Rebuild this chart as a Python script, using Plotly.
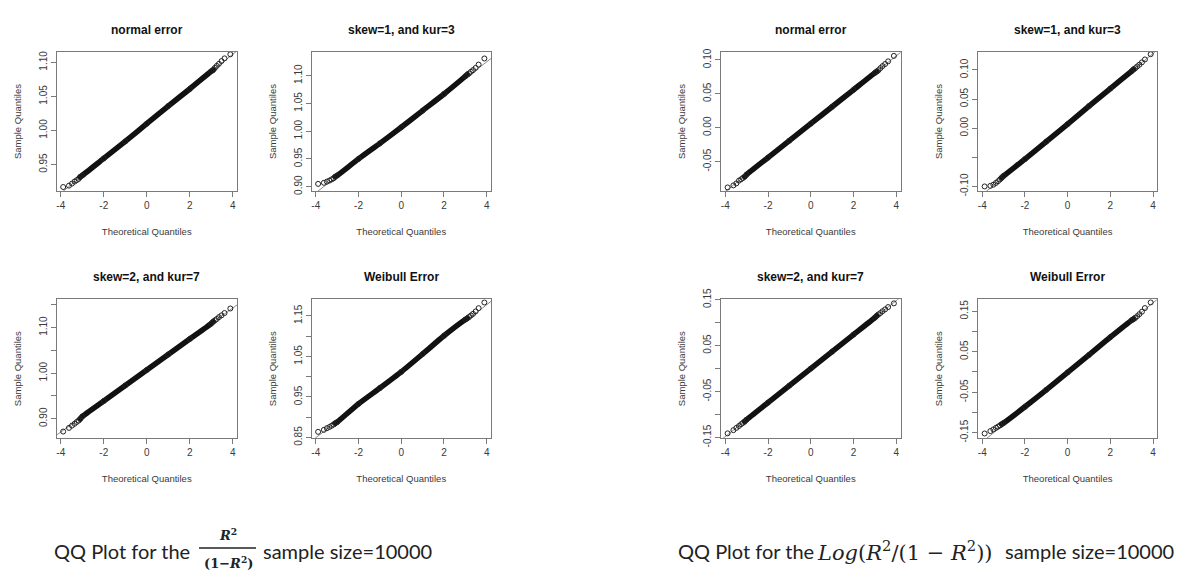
import plotly.graph_objects as go

W, H = 1184, 582

# Theoretical normal quantiles where sample quantiles are listed:
# sparse tail points, then the dense central body, then the upper tail.
THEO = [-3.89, -3.62, -3.48, -3.36, -3.26, -3.17, -3.09,
        -3.0, -2.0, -1.0, 0.0, 1.0, 2.0, 3.0,
        3.09, 3.17, 3.26, 3.36, 3.48, 3.62, 3.89]

PANEL_TITLES = ["normal error", "skew=1, and kur=3", "skew=2, and kur=7", "Weibull Error",
                "normal error", "skew=1, and kur=3", "skew=2, and kur=7", "Weibull Error"]

# Sample quantiles of R^2/(1-R^2)
ratio_normal = [0.917, 0.919, 0.922, 0.925, 0.927, 0.929, 0.932,
                0.934, 0.959, 0.984, 1.010, 1.036, 1.061, 1.087,
                1.089, 1.092, 1.095, 1.098, 1.102, 1.106, 1.112]
ratio_skew1 = [0.905, 0.907, 0.909, 0.911, 0.913, 0.915, 0.918,
               0.920, 0.950, 0.978, 1.007, 1.037, 1.067, 1.099,
               1.102, 1.104, 1.107, 1.110, 1.114, 1.120, 1.131]
ratio_skew2 = [0.872, 0.880, 0.885, 0.889, 0.893, 0.896, 0.900,
               0.905, 0.939, 0.973, 1.007, 1.041, 1.075, 1.109,
               1.113, 1.116, 1.119, 1.123, 1.127, 1.132, 1.142]
ratio_weibull = [0.864, 0.869, 0.873, 0.876, 0.879, 0.882, 0.885,
                 0.888, 0.933, 0.972, 1.012, 1.056, 1.101, 1.141,
                 1.144, 1.147, 1.151, 1.155, 1.161, 1.169, 1.183]

# Sample quantiles of Log(R^2/(1-R^2))
log_normal = [-0.088, -0.085, -0.082, -0.078, -0.076, -0.074, -0.072,
              -0.069, -0.044, -0.019, 0.006, 0.031, 0.056, 0.081,
              0.083, 0.085, 0.088, 0.091, 0.094, 0.098, 0.106]
log_skew1 = [-0.100, -0.099, -0.097, -0.094, -0.091, -0.088, -0.085,
             -0.082, -0.053, -0.023, 0.007, 0.038, 0.068, 0.098,
             0.101, 0.103, 0.106, 0.109, 0.113, 0.118, 0.127]
log_skew2 = [-0.141, -0.134, -0.129, -0.125, -0.121, -0.118, -0.115,
             -0.111, -0.074, -0.037, 0.000, 0.037, 0.074, 0.111,
             0.115, 0.118, 0.121, 0.125, 0.129, 0.134, 0.142]
log_weibull = [-0.152, -0.146, -0.142, -0.138, -0.135, -0.132, -0.129,
               -0.126, -0.086, -0.044, -0.001, 0.042, 0.086, 0.128,
               0.131, 0.134, 0.138, 0.143, 0.149, 0.158, 0.172]

SAMPLES = [ratio_normal, ratio_skew1, ratio_skew2, ratio_weibull,
           log_normal, log_skew1, log_skew2, log_weibull]

# qqline (through the quartiles) for every panel
ref_intercepts = [1.010, 1.007, 1.007, 1.0135, 0.006, 0.007, 0.000, -0.001]
ref_slopes = [0.0255, 0.0295, 0.034, 0.041, 0.025, 0.0303, 0.037, 0.043]

X_TICKS = [-4, -2, 0, 2, 4]
X_TICK_TEXT = ["-4", "-2", "0", "2", "4"]

# labelled y ticks, and unlabelled ones that only get a tick mark
Y_TICKS = [
    [0.95, 1.00, 1.05, 1.10],
    [0.90, 0.95, 1.00, 1.05, 1.10],
    [0.90, 1.00, 1.10],
    [0.85, 0.95, 1.05, 1.15],
    [-0.05, 0.00, 0.05, 0.10],
    [-0.10, 0.00, 0.05, 0.10],
    [-0.15, -0.05, 0.05, 0.15],
    [-0.15, -0.05, 0.05, 0.15],
]
Y_TICK_TEXT = [
    ["0.95", "1.00", "1.05", "1.10"],
    ["0.90", "0.95", "1.00", "1.05", "1.10"],
    ["0.90", "1.00", "1.10"],
    ["0.85", "0.95", "1.05", "1.15"],
    ["-0.05", "0.00", "0.05", "0.10"],
    ["-0.10", "0.00", "0.05", "0.10"],
    ["-0.15", "-0.05", "0.05", "0.15"],
    ["-0.15", "-0.05", "0.05", "0.15"],
]
Y_MINOR_TICKS = [
    [], [],
    [0.95, 1.05, 1.15],
    [0.90, 1.00, 1.10],
    [],
    [-0.05],
    [-0.10, 0.00, 0.10],
    [-0.10, 0.00, 0.10],
]
Y_RANGES = [
    [0.911, 1.1153], [0.892, 1.1426], [0.8576, 1.1623], [0.8486, 1.191],
    [-0.0934, 0.1117], [-0.108, 0.1307], [-0.1513, 0.151], [-0.1634, 0.1798],
]
X_RANGE = [-4.2, 4.2]

# panel boxes in pixels: (left, right, top, bottom)
COLS = [(56.5, 237.0), (311.5, 491.0), (721.0, 900.5), (978.0, 1157.3)]
ROWS = [(42.5, 186.5), (298.5, 442.3)]
BOXES = []
for group in range(2):
    for r in range(2):
        for c in range(2):
            l, rr = COLS[group * 2 + c]
            t, b = ROWS[r]
            BOXES.append((l, rr, t, b))

AXIS_FONT = "Liberation Sans, Arial, sans-serif"
BOX_COLOR = "#7a7a7a"
TEXT_COLOR = "#3a3a3a"

fig = go.Figure()
annotations = []
shapes = []

for i in range(8):
    n = i + 1
    xa = "x" if n == 1 else f"x{n}"
    ya = "y" if n == 1 else f"y{n}"
    l, r, t, b = BOXES[i]
    ys = SAMPLES[i]

    # reference line
    a, s = ref_intercepts[i], ref_slopes[i]
    fig.add_trace(go.Scatter(
        x=[-4.6, 4.6], y=[a - 4.6 * s, a + 4.6 * s], mode="lines",
        line=dict(color="#8a8a8a", width=1), xaxis=xa, yaxis=ya,
        hoverinfo="skip", showlegend=False))
    # dense central band of overlapping points
    fig.add_trace(go.Scatter(
        x=THEO[5:16], y=ys[5:16], mode="lines",
        line=dict(color="#111111", width=5.5, shape="spline", smoothing=0.6),
        xaxis=xa, yaxis=ya, showlegend=False))
    # individual points
    fig.add_trace(go.Scatter(
        x=THEO, y=ys, mode="markers",
        marker=dict(symbol="circle-open", size=5, color="#222222",
                    line=dict(width=1, color="#222222")),
        xaxis=xa, yaxis=ya, showlegend=False))

    common = dict(showline=True, mirror=True, linecolor=BOX_COLOR, linewidth=1,
                  ticks="outside", ticklen=5, tickcolor=BOX_COLOR, tickwidth=1,
                  showgrid=False, zeroline=False,
                  tickfont=dict(family=AXIS_FONT, size=10, color=TEXT_COLOR))
    yaxis = dict(domain=[1 - b / H, 1 - t / H], anchor=xa, range=Y_RANGES[i],
                 tickvals=Y_TICKS[i], ticktext=Y_TICK_TEXT[i], tickangle=-90,
                 title=dict(text="Sample Quantiles", standoff=14,
                            font=dict(family=AXIS_FONT, size=9.5, color=TEXT_COLOR)),
                 **common)
    if Y_MINOR_TICKS[i]:
        yaxis["minor"] = dict(tickvals=Y_MINOR_TICKS[i], ticks="outside", ticklen=5,
                              tickcolor=BOX_COLOR, tickwidth=1, showgrid=False)
    fig.update_layout(**{
        ("xaxis" if n == 1 else f"xaxis{n}"): dict(
            domain=[l / W, r / W], anchor=ya, range=X_RANGE,
            tickvals=X_TICKS, ticktext=X_TICK_TEXT,
            title=dict(text="Theoretical Quantiles", standoff=18,
                       font=dict(family=AXIS_FONT, size=9.5, color=TEXT_COLOR)),
            **common),
        ("yaxis" if n == 1 else f"yaxis{n}"): yaxis,
    })

    cx = (l + r) / 2
    annotations.append(dict(
        text=f"<b>{PANEL_TITLES[i]}</b>", x=cx / W, y=1 - (t - 23) / H,
        xref="paper", yref="paper", showarrow=False, xanchor="center", yanchor="middle",
        font=dict(family=AXIS_FONT, size=12, color="#111111")))

# captions under each group
CAP_FONT = "Lato, Open Sans, sans-serif"
MATH_FONT = "DejaVu Serif, Liberation Serif, serif"
CAP_Y = 1 - 559 / H
captions = [
    dict(text="QQ Plot for the", x=52 / W, y=CAP_Y, xanchor="left", yanchor="middle",
         font=dict(family=CAP_FONT, size=20, color="#222222")),
    dict(text="<b><i>R</i><sup>2</sup></b>", x=228 / W, y=1 - 542 / H,
         xanchor="center", yanchor="middle",
         font=dict(family=MATH_FONT, size=13, color="#222222")),
    dict(text="<b>(1\u2212<i>R</i><sup>2</sup>)</b>", x=228 / W, y=1 - 571 / H,
         xanchor="center", yanchor="middle",
         font=dict(family=MATH_FONT, size=13, color="#222222")),
    dict(text="sample size=10000", x=261 / W, y=CAP_Y, xanchor="left", yanchor="middle",
         font=dict(family=CAP_FONT, size=20, color="#222222")),
    dict(text="QQ Plot for the", x=676 / W, y=CAP_Y, xanchor="left", yanchor="middle",
         font=dict(family=CAP_FONT, size=20, color="#222222")),
    dict(text="<i>Log</i>(<i>R</i><sup>2</sup>/(1 \u2212 <i>R</i><sup>2</sup>))",
         x=815 / W, y=CAP_Y, xanchor="left", yanchor="middle",
         font=dict(family=MATH_FONT, size=21, color="#222222")),
    dict(text="sample size=10000", x=1003 / W, y=CAP_Y, xanchor="left", yanchor="middle",
         font=dict(family=CAP_FONT, size=20, color="#222222")),
]
for ann in captions:
    ann.update(xref="paper", yref="paper", showarrow=False)
annotations += captions

# fraction bar of R^2/(1-R^2)
shapes.append(dict(type="line", xref="paper", yref="paper",
                   x0=199 / W, x1=256 / W, y0=1 - 556 / H, y1=1 - 556 / H,
                   line=dict(color="#222222", width=1.5)))

fig.update_layout(
    width=W, height=H, margin=dict(l=0, r=0, t=0, b=0),
    paper_bgcolor="white", plot_bgcolor="white",
    annotations=annotations, shapes=shapes, showlegend=False,
)

fig.write_html("out.html")
